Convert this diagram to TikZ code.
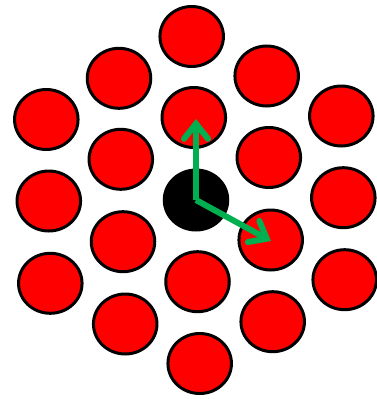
\documentclass[tikz,border=0pt]{standalone}
\usetikzlibrary{shapes.geometric,arrows.meta}
\definecolor{arrgreen}{RGB}{0,176,80}
\tikzset{
  ball/.style={ellipse,draw=black,line width=3pt,fill=red,inner sep=0pt,minimum width=63.5pt,minimum height=60pt},
  core/.style={ball,fill=black},
  vec/.style={draw=arrgreen,line width=6pt,line join=round,-{Straight Barb[length=15pt,width=24pt,line cap=round]}}
}
\begin{document}
\begin{tikzpicture}[x=1pt,y=-1pt]
\useasboundingbox (0,0) rectangle (377,399);
\node[ball] (b1) at (191.7,36.5) {};
\node[ball] (b2) at (119,78.3) {};
\node[ball] (b3) at (266.7,76) {};
\node[ball] (b4) at (46.3,119.5) {};
\node[ball] (b5) at (193.8,117.5) {};
\node[ball] (b6) at (341.3,116) {};
\node[ball] (b7) at (120.8,159.3) {};
\node[ball] (b8) at (268.8,157.5) {};
\node[ball] (b9) at (48.8,201) {};
\node[core] (c) at (196,200) {};
\node[ball] (b10) at (343.3,197.7) {};
\node[ball] (b11) at (123,241.7) {};
\node[ball] (b12) at (270.7,240) {};
\node[ball] (b13) at (50.3,283.3) {};
\node[ball] (b14) at (197.5,281.7) {};
\node[ball] (b15) at (344.7,279.7) {};
\node[ball] (b16) at (125.2,324) {};
\node[ball] (b17) at (272.7,321.7) {};
\node[ball] (b18) at (199.7,363.5) {};
\coordinate (t1) at (196,119);
\coordinate (t2) at (271,241);
\draw[vec] (c.center) -- (t1);
\draw[vec] (c.center) -- (t2);
\end{tikzpicture}
\end{document}
